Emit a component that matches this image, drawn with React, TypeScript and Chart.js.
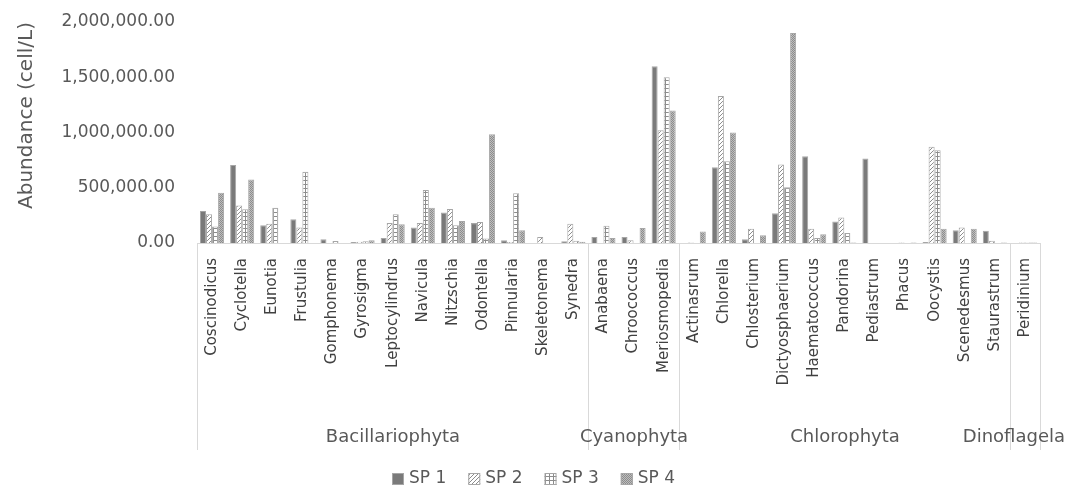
import React, { useEffect, useRef } from 'react';
import { Chart, registerables } from 'chart.js';

Chart.register(...registerables);

const categories = [
  'Coscinodicus', 'Cyclotella', 'Eunotia', 'Frustulia', 'Gomphonema', 'Gyrosigma',
  'Leptocylindrus', 'Navicula', 'Nitzschia', 'Odontella', 'Pinnularia', 'Skeletonema',
  'Synedra', 'Anabaena', 'Chroococcus', 'Meriosmopedia', 'Actinasrum', 'Chlorella',
  'Chlosterium', 'Dictyosphaerium', 'Haematococcus', 'Pandorina', 'Pediastrum', 'Phacus',
  'Oocystis', 'Scenedesmus', 'Staurastrum', 'Peridinium',
];
const groupNames = ['Bacillariophyta', 'Cyanophyta', 'Chlorophyta', 'Dinoflagela'];
const groupSizes = [13, 3, 11, 1];
const seriesNames = ['SP 1', 'SP 2', 'SP 3', 'SP 4'];
const axisTitle = 'Abundance (cell/L)';

const sp1 = [290000, 705000, 160000, 215000, 35000, 8000, 45000, 140000, 275000, 180000, 25000, 0, 15000,
  55000, 55000, 1600000,
  0, 685000, 35000, 270000, 785000, 195000, 765000, 0, 10000, 115000, 110000,
  0];
const sp2 = [260000, 340000, 175000, 140000, 0, 12000, 180000, 180000, 307000, 190000, 10000, 55000, 175000,
  0, 25000, 1020000,
  5000, 1330000, 130000, 710000, 130000, 230000, 0, 5000, 870000, 140000, 20000,
  5000];
const sp3 = [150000, 305000, 320000, 645000, 18000, 15000, 260000, 480000, 160000, 40000, 450000, 0, 20000,
  155000, 0, 1500000,
  0, 740000, 0, 505000, 45000, 90000, 0, 0, 840000, 0, 0,
  5000];
const sp4 = [455000, 575000, 0, 0, 0, 25000, 170000, 320000, 200000, 985000, 115000, 0, 12000,
  45000, 135000, 1200000,
  105000, 1000000, 70000, 1900000, 80000, 5000, 0, 5000, 130000, 130000, 5000,
  5000];

const yTicks = [0, 500000, 1000000, 1500000, 2000000];

const FONT = 'DejaVu Sans';
const TEXT = '#595959';
const BORDER = '#a6a6a6';

function makePattern(kind: number): CanvasPattern | string {
  if (kind === 0) return '#7a7a7a';
  const c = document.createElement('canvas');
  const s = 4;
  c.width = s;
  c.height = s;
  const g = c.getContext('2d')!;
  g.fillStyle = '#ffffff';
  g.fillRect(0, 0, s, s);
  g.fillStyle = '#8c8c8c';
  if (kind === 1) {
    g.fillRect(0, 3, 1, 1);
    g.fillRect(1, 2, 1, 1);
    g.fillRect(2, 1, 1, 1);
    g.fillRect(3, 0, 1, 1);
  } else if (kind === 2) {
    g.fillRect(0, 0, s, 1);
    g.fillRect(1, 0, 1, s);
  } else {
    g.fillStyle = '#bdbdbd';
    g.fillRect(0, 0, s, s);
    g.fillStyle = '#8c8c8c';
    for (let yy = 0; yy < s; yy++) {
      for (let xx = 0; xx < s; xx++) {
        if ((xx + yy) % 2 === 0) g.fillRect(xx, yy, 1, 1);
      }
    }
  }
  return g.createPattern(c, 'repeat') || '#999';
}

const groupPlugin = {
  id: 'groupAxis',
  afterDraw(chart: any) {
    const x = chart.scales.x;
    const { ctx, chartArea } = chart;
    const step = x.getPixelForValue(1) - x.getPixelForValue(0);
    const edge = (i: number) => Math.round(x.getPixelForValue(i) - step / 2) + 0.5;
    const bounds = [0];
    let acc = 0;
    groupSizes.forEach((s) => { acc += s; bounds.push(acc); });
    ctx.save();
    ctx.strokeStyle = '#d9d9d9';
    ctx.lineWidth = 1;
    bounds.forEach((b) => {
      const px = edge(b);
      ctx.beginPath();
      ctx.moveTo(px, chartArea.bottom);
      ctx.lineTo(px, chartArea.bottom + 207);
      ctx.stroke();
    });
    ctx.fillStyle = TEXT;
    ctx.font = `18px "${FONT}"`;
    ctx.textAlign = 'center';
    ctx.textBaseline = 'middle';
    groupNames.forEach((name, i) => {
      const w = ctx.measureText(name).width;
      let cx = (edge(bounds[i]) + edge(bounds[i + 1])) / 2;
      cx = Math.min(cx, chart.width - w / 2 - 3);
      ctx.fillText(name, cx, chartArea.bottom + 194);
    });

    // y axis title
    ctx.save();
    ctx.translate(27, (chartArea.top + chartArea.bottom) / 2 - 17);
    ctx.rotate(-Math.PI / 2);
    ctx.font = `20px "${FONT}"`;
    ctx.fillStyle = TEXT;
    ctx.textAlign = 'center';
    ctx.textBaseline = 'middle';
    ctx.fillText(axisTitle, 0, 0);
    ctx.restore();

    // legend
    ctx.font = `17px "${FONT}"`;
    const box = 12;
    const gapBoxText = 5;
    const gapItems = 22;
    const widths = seriesNames.map((n) => box + gapBoxText + ctx.measureText(n).width);
    const total = widths.reduce((a, b) => a + b, 0) + gapItems * (widths.length - 1);
    let lx = Math.round(chart.width / 2 - total / 2);
    const ly = 479;
    chart.data.datasets.forEach((ds: any, i: number) => {
      ctx.fillStyle = ds.backgroundColor;
      ctx.fillRect(lx, ly - box / 2, box, box);
      ctx.strokeStyle = BORDER;
      ctx.lineWidth = 1;
      ctx.strokeRect(lx + 0.5, ly - box / 2 + 0.5, box - 1, box - 1);
      ctx.fillStyle = TEXT;
      ctx.textAlign = 'left';
      ctx.textBaseline = 'middle';
      ctx.fillText(seriesNames[i], lx + box + gapBoxText, ly);
      lx += widths[i] + gapItems;
    });
    ctx.restore();
  },
};

export default function App() {
  const ref = useRef<HTMLCanvasElement | null>(null);
  useEffect(() => {
    if (!ref.current) return;
    const series = [sp1, sp2, sp3, sp4];
    const chart = new Chart(ref.current, {
      type: 'bar',
      data: {
        labels: categories,
        datasets: series.map((d, i) => ({
          label: seriesNames[i],
          data: d,
          backgroundColor: makePattern(i) as any,
          borderColor: BORDER,
          borderWidth: 1,
          categoryPercentage: 0.8,
          barPercentage: 1,
        })),
      },
      options: {
        animation: false,
        responsive: true,
        maintainAspectRatio: false,
        layout: { padding: { left: 11, top: 22, right: 28, bottom: 0 } },
        plugins: {
          legend: { display: false },
          tooltip: { enabled: false },
        },
        scales: {
          x: {
            grid: { display: true, drawOnChartArea: false, drawTicks: false },
            border: { display: true, color: '#d9d9d9', width: 1 },
            ticks: {
              autoSkip: false,
              minRotation: 90,
              maxRotation: 90,
              padding: 15,
              color: '#404040',
              font: { family: FONT, size: 15 },
            },
            afterFit: (scale: any) => { scale.height = 246; },
          },
          y: {
            min: 0,
            max: 2000000,
            afterBuildTicks: (scale: any) => { scale.ticks = yTicks.map((v) => ({ value: v })); },
            grid: { display: false, drawTicks: true, tickLength: 19 },
            border: { display: false },
            ticks: {
              padding: 3,
              color: TEXT,
              font: { family: FONT, size: 17 },
              callback: (v: any) => Number(v).toLocaleString('en-US', { minimumFractionDigits: 2, maximumFractionDigits: 2 }),
            },
            afterFit: (scale: any) => { scale.width = 186; },
          },
        },
      },
      plugins: [groupPlugin],
    } as any);
    return () => chart.destroy();
  }, []);
  return (
    <div style={{ position: 'fixed', left: 0, top: 0, width: 1068, height: 489, background: '#fff' }}>
      <canvas ref={ref} />
    </div>
  );
}
